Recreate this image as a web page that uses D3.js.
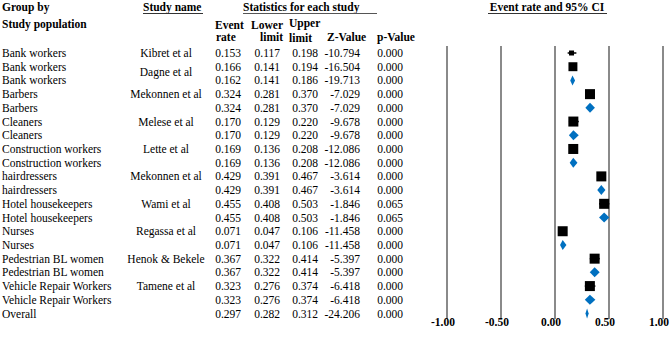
<!DOCTYPE html>
<html lang="en">

<head>
    <meta charset="UTF-8">
    <title>Forest plot</title>
    <script src="https://d3js.org/d3.v7.min.js"></script>
    <style>
        body { margin: 0; background: #fff; }
    </style>
</head>

<body>
    <script>
        var groups = ["Bank workers", "Bank workers", "Bank workers", "Barbers", "Barbers", "Cleaners", "Cleaners",
            "Construction workers", "Construction workers", "hairdressers", "hairdressers", "Hotel housekeepers",
            "Hotel housekeepers", "Nurses", "Nurses", "Pedestrian BL women", "Pedestrian BL women",
            "Vehicle Repair Workers", "Vehicle Repair Workers", "Overall"];
        var studies = ["Kibret et al", "Dagne et al", "", "Mekonnen et al", "", "Melese et al", "", "Lette et al", "",
            "Mekonnen et al", "", "Wami et al", "", "Regassa et al", "", "Henok & Bekele", "", "Tamene et al", "", ""];
        var eventRate = [0.153, 0.166, 0.162, 0.324, 0.324, 0.170, 0.170, 0.169, 0.169, 0.429, 0.429, 0.455, 0.455,
            0.071, 0.071, 0.367, 0.367, 0.323, 0.323, 0.297];
        var lower = [0.117, 0.141, 0.141, 0.281, 0.281, 0.129, 0.129, 0.136, 0.136, 0.391, 0.391, 0.408, 0.408,
            0.047, 0.047, 0.322, 0.322, 0.276, 0.276, 0.282];
        var upper = [0.198, 0.194, 0.186, 0.370, 0.370, 0.220, 0.220, 0.208, 0.208, 0.467, 0.467, 0.503, 0.503,
            0.106, 0.106, 0.414, 0.414, 0.374, 0.374, 0.312];
        var zValue = [-10.794, -16.504, -19.713, -7.029, -7.029, -9.678, -9.678, -12.086, -12.086, -3.614, -3.614,
            -1.846, -1.846, -11.458, -11.458, -5.397, -5.397, -6.418, -6.418, -24.206];
        var pValue = [0.000, 0.000, 0.000, 0.000, 0.000, 0.000, 0.000, 0.000, 0.000, 0.000, 0.000, 0.065, 0.065,
            0.000, 0.000, 0.000, 0.000, 0.000, 0.000, 0.000];
        // relative box weight for single-study rows (pooled rows are drawn as diamonds)
        var weights = [0.25, 0.8, 0, 1, 0, 1, 0, 1, 0, 1, 0, 1, 0, 1, 0, 1, 0, 1, 0, 0];
        var ticks = [-1, -0.5, 0, 0.5, 1];

        var width = 670, height = 337;
        var svg = d3.select("body").append("svg")
            .attr("width", width)
            .attr("height", height)
            .attr("font-family", "'Liberation Serif', 'Times New Roman', Times, serif")
            .attr("font-size", 11.5)
            .attr("fill", "#000");

        var rows = groups.map(function (g, i) {
            return { group: g, study: studies[i], rate: eventRate[i], lo: lower[i], hi: upper[i], z: zValue[i], p: pValue[i], w: weights[i], pooled: studies[i] === "" };
        });

        var y = d3.scalePoint().domain(d3.range(rows.length)).range([53, 313.5]);
        var x = d3.scaleLinear().domain([-1, 1]).range([447, 663]);
        var box = d3.scaleSqrt().domain([0, 1]).range([0, 10]);
        var locale = d3.formatLocale({ decimal: ".", thousands: ",", grouping: [3], currency: ["", ""], minus: "-" });
        var f3 = locale.format(".3f");
        var f2 = locale.format(".2f");

        // headers
        function bold(x0, y0, t, anchor) {
            return svg.append("text").attr("font-weight", "bold")
                .attr("x", x0).attr("y", y0)
                .attr("text-anchor", anchor || "start")
                .text(t);
        }
        bold(2, 11, "Group by");
        bold(2, 28, "Study population");
        bold(143, 11, "Study name");
        svg.append("line").attr("x1", 143).attr("x2", 203).attr("y1", 13.5).attr("y2", 13.5).attr("stroke", "#333");
        bold(243, 11, "Statistics for each study");
        svg.append("line").attr("x1", 243).attr("x2", 377).attr("y1", 13.5).attr("y2", 13.5).attr("stroke", "#555");
        bold(547, 11, "Event rate and 95% CI", "middle");
        svg.append("line").attr("x1", 488).attr("x2", 607).attr("y1", 13.5).attr("y2", 13.5).attr("stroke", "#333");

        bold(215, 29, "Event"); bold(216, 41, "rate");
        bold(283, 29, "Lower", "end"); bold(283, 41, "limit", "end");
        bold(289, 27, "Upper"); bold(289, 42, "limit");
        bold(327, 41, "Z-Value"); bold(377, 41, "p-Value");

        // table rows
        var row = svg.selectAll("g.row").data(rows).enter().append("g")
            .attr("class", "row")
            .attr("transform", (d, i) => "translate(0," + (y(i) + 4) + ")");
        row.append("text").attr("x", 2).text(d => d.group);
        row.append("text").attr("x", 166).attr("text-anchor", "middle")
            .attr("dy", d => d.study === "Dagne et al" ? 5 : 0)
            .text(d => d.study);
        var cols = [
            { k: "rate", x: 241 }, { k: "lo", x: 280 }, { k: "hi", x: 318 }, { k: "z", x: 360 }, { k: "p", x: 403 }
        ];
        cols.forEach(function (c) {
            row.append("text").attr("x", c.x).attr("text-anchor", "end").text(d => f3(d[c.k]));
        });

        // grid lines
        svg.selectAll("line.grid").data(ticks).enter().append("line")
            .attr("class", "grid")
            .attr("x1", d => x(d)).attr("x2", d => x(d))
            .attr("y1", 46).attr("y2", 319)
            .attr("stroke", "#6d6d6d").attr("stroke-width", 1.6);
        svg.selectAll("text.tick").data(ticks).enter().append("text")
            .attr("class", "tick")
            .attr("font-weight", "bold")
            .attr("x", d => x(d) - 4).attr("y", 326)
            .attr("text-anchor", "middle")
            .text(d => f2(d));

        // markers
        var mk = svg.selectAll("g.mk").data(rows).enter().append("g")
            .attr("class", "mk")
            .attr("transform", (d, i) => "translate(0," + y(i) + ")");
        mk.filter(d => !d.pooled).append("line")
            .attr("x1", d => x(d.lo)).attr("x2", d => x(d.hi))
            .attr("stroke", "#000").attr("stroke-width", 1.5);
        mk.filter(d => !d.pooled).append("rect")
            .attr("x", d => x(d.rate) - box(d.w) / 2)
            .attr("y", d => -box(d.w) / 2)
            .attr("width", d => box(d.w))
            .attr("height", d => box(d.w))
            .attr("fill", "#000");
        mk.filter(d => d.pooled).append("path")
            .attr("d", d => "M" + x(d.lo) + ",0L" + x(d.rate) + ",-5L" + x(d.hi) + ",0L" + x(d.rate) + ",5Z")
            .attr("fill", "#0070c0");
    </script>
</body>

</html>
